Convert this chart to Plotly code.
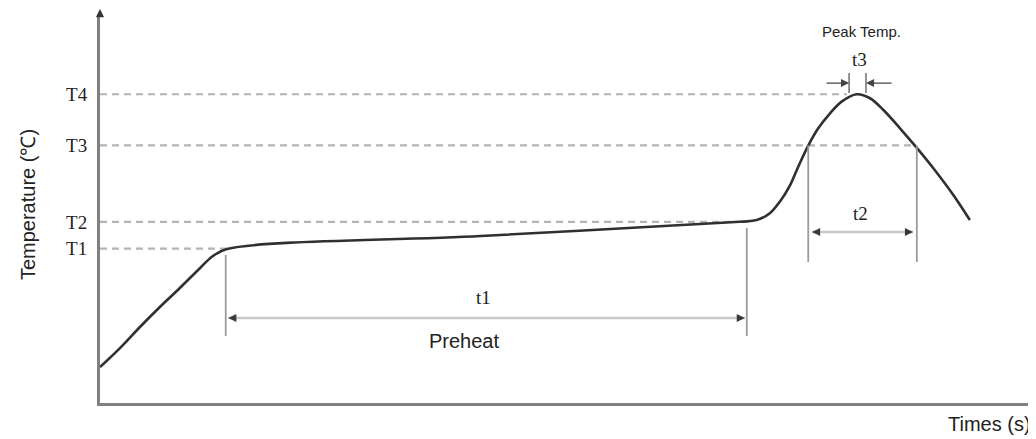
import plotly.graph_objects as go

# ---------------- data ----------------
# reflow temperature profile (time in s, temperature in arbitrary units)
profile_time = [0, 6.4, 12.8, 19.2, 25.6, 32.1, 36.2, 40.7, 122.0, 205.1,
                210.5, 214.7, 217.9, 221.2, 223.8, 227.0, 230.2, 234.0, 237.7, 242.5,
                246.8, 251.1, 256.4, 261.2, 267.1, 273.5, 278.8]
profile_temp = [29.6, 45.2, 62.5, 79.0, 94.6, 111.1, 120.9, 126.7, 137.4, 149.1,
                150.5, 156.1, 165.6, 179.3, 194.4, 211.7, 226.0, 238.3, 247.9, 254.0,
                250.7, 241.0, 226.0, 211.7, 193.1, 171.1, 150.5]

# temperature levels (tick labels) and where each dashed guide meets the curve
level_names = ["T1", "T2", "T3", "T4"]
level_temps = [127, 149, 212, 254]
level_ends = [40.5, 207.7, 261.5, 239.4]

# time spans: t1 (preheat), t2 (above T3), t3 (at peak)
t1_span = [40.3, 207.3]
t1_tips = [41.1, 206.7]
t1_marker_temp = [121.8, 55.1]      # left marker top, bottom
t1_right_top = 144.0
t1_arrow_temp = 69.9

t2_span = [227.0, 261.8]
t2_tips = [228.2, 260.6]
t2_marker_temp = [212, 116.0]
t2_arrow_temp = 140.7

t3_span = [240.1, 245.5]
t3_marker_temp = [271.5, 255.0]
t3_arrow_temp = 263.2
t3_tails = [232.4, 254.2]

# text labels (time, temp)
t1_label = (122.8, 87.2)
preheat_label = (116.7, 51.0)
t2_label = (243.8, 155.5)
t3_label = (243.3, 282.6)
peak_label = (244.2, 305.7)

X_RANGE = [0, 300]
Y_RANGE = [0, 320]

SERIF = "Liberation Serif, Times New Roman, serif"
SANS = "Liberation Sans, Arial, sans-serif"
TXT = "#222222"
DASH_C = "#b4b4b4"
VLINE_C = "#9a9a9a"
ARROW_LINE_C = "#c8c8c8"
HEAD_C = "#3a3a3a"

fig = go.Figure()

fig.add_trace(go.Scatter(
    x=profile_time, y=profile_temp, mode="lines",
    line=dict(color="#303030", width=2.6, shape="spline", smoothing=1.0),
    cliponaxis=False, hoverinfo="skip", showlegend=False))

shapes = []
# dashed guides
for t, e in zip(level_temps, level_ends):
    shapes.append(dict(type="line", xref="x", yref="y", x0=X_RANGE[0], x1=e, y0=t, y1=t,
                       line=dict(color=DASH_C, width=2.2, dash="7px,5px"), layer="below"))


def vline(x, y0, y1, color=VLINE_C, w=1.8):
    shapes.append(dict(type="line", xref="x", yref="y", x0=x, x1=x, y0=y0, y1=y1,
                       line=dict(color=color, width=w)))


def hline(x0, x1, y, color=ARROW_LINE_C, w=2.6):
    shapes.append(dict(type="line", xref="x", yref="y", x0=x0, x1=x1, y0=y, y1=y,
                       line=dict(color=color, width=w)))


# t1
vline(t1_span[0], t1_marker_temp[0], t1_marker_temp[1])
vline(t1_span[1], t1_right_top, t1_marker_temp[1])
hline(t1_tips[0], t1_tips[1], t1_arrow_temp)
# t2
vline(t2_span[0], t2_marker_temp[0], t2_marker_temp[1])
vline(t2_span[1], t2_marker_temp[0], t2_marker_temp[1])
hline(t2_tips[0], t2_tips[1], t2_arrow_temp)
# t3
vline(t3_span[0], t3_marker_temp[0], t3_marker_temp[1], color="#777777", w=1.6)
vline(t3_span[1], t3_marker_temp[0], t3_marker_temp[1], color="#777777", w=1.6)

annotations = []


def head(x, y, direction):
    # direction: -1 points left, +1 points right
    annotations.append(dict(x=x, y=y, xref="x", yref="y", text="", showarrow=True,
                            ax=-direction * 9, ay=0, arrowhead=2, arrowsize=1.25,
                            arrowwidth=1.3, arrowcolor=HEAD_C, standoff=0))


head(t1_tips[0], t1_arrow_temp, -1)
head(t1_tips[1], t1_arrow_temp, +1)
head(t2_tips[0], t2_arrow_temp, -1)
head(t2_tips[1], t2_arrow_temp, +1)

# t3 arrows (dark, pointing inwards)
for tip, tail in zip(t3_span, t3_tails):
    annotations.append(dict(x=tip, y=t3_arrow_temp, xref="x", yref="y", axref="x", ayref="y",
                            ax=tail, ay=t3_arrow_temp, text="", showarrow=True, arrowhead=2,
                            arrowsize=1.25, arrowwidth=1.3, arrowcolor="#444444", standoff=0))

# y-axis arrow head
annotations.append(dict(x=X_RANGE[0], y=1.016, xref="x", yref="paper", text="", showarrow=True,
                        ax=0, ay=9, arrowhead=2, arrowsize=1.25, arrowwidth=1.3,
                        arrowcolor="#333333", standoff=0))


def label(pos, text, font, size):
    annotations.append(dict(x=pos[0], y=pos[1], xref="x", yref="y", text=text, showarrow=False,
                            xanchor="center", yanchor="middle",
                            font=dict(family=font, size=size, color=TXT)))


label(t1_label, "t1", SERIF, 19)
label(preheat_label, "Preheat", SANS, 20)
label(t2_label, "t2", SERIF, 19)
label(t3_label, "t3", SERIF, 19)
label(peak_label, "Peak Temp.", SANS, 15)

# axis titles
annotations.append(dict(x=1, y=-0.055, xref="paper", yref="paper", text="Times (s)",
                        showarrow=False, xanchor="right", yanchor="middle", xshift=-3,
                        font=dict(family=SANS, size=20, color=TXT)))
annotations.append(dict(x=-0.0775, y=0.51, xref="paper", yref="paper", text="Temperature (℃)",
                        showarrow=False, xanchor="center", yanchor="middle", textangle=-90,
                        font=dict(family=SANS, size=20, color=TXT)))

# the page body adds an 8px offset, so the figure is 8px smaller and margins compensate
fig.update_layout(
    width=1028, height=431,
    margin=dict(l=92, r=0, t=6, b=36),
    paper_bgcolor="white", plot_bgcolor="white",
    shapes=shapes, annotations=annotations,
    showlegend=False,
    xaxis=dict(range=X_RANGE, showline=True, linecolor="#808080", linewidth=3,
               showgrid=False, zeroline=False, showticklabels=False, ticks="",
               fixedrange=True),
    yaxis=dict(range=Y_RANGE, showline=True, linecolor="#808080", linewidth=3,
               showgrid=False, zeroline=False, ticks="",
               tickvals=level_temps, ticktext=level_names, ticklabelstandoff=6,
               tickfont=dict(family=SERIF, size=19, color=TXT), fixedrange=True),
)

fig.write_html("out.html")
